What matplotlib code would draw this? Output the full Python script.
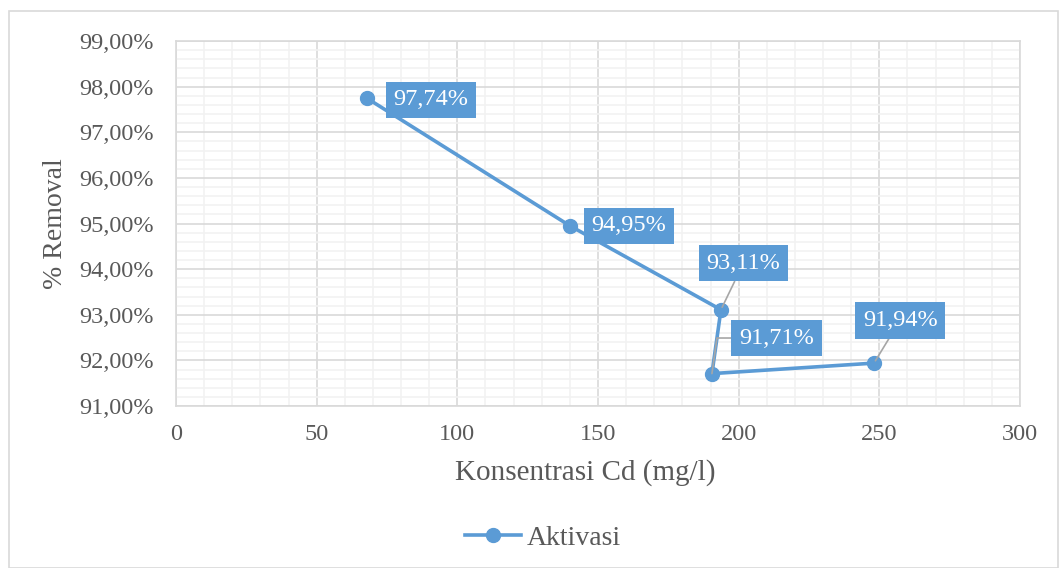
import numpy as np
import matplotlib.pyplot as plt
from matplotlib.ticker import MultipleLocator, FuncFormatter
from matplotlib.patches import Rectangle

plt.rcParams['font.family'] = ['Liberation Serif', 'DejaVu Serif']

# data
konsentrasi = [68, 140, 193.7, 190.5, 248.1]
removal = [97.74, 94.95, 93.11, 91.71, 91.94]
labels = ['97,74%', '94,95%', '93,11%', '91,71%', '91,94%']
# label offsets in data units (dx, dy) from point
label_offsets = [(22.6, -0.03), (21, 0.0), (8, 1.02), (23, 0.78), (9.3, 0.94)]

blue = '#5B9BD5'
grey_txt = '#595959'

fig = plt.figure(figsize=(10.59, 5.68), dpi=100)
fig.patches.append(Rectangle((9/1059, 0), 1 - 10/1059, 1 - 11/568, transform=fig.transFigure,
                             fill=False, edgecolor='#D9D9D9', linewidth=1.2))
ax = fig.add_axes([176/1059, 1 - 406/568, 844/1059, 365/568])

ax.plot(konsentrasi, removal, color=blue, linewidth=2.6, marker='o', markersize=10,
        label='Aktivasi', zorder=3)

box = dict(boxstyle='square,pad=0.32', facecolor=blue, edgecolor='none')
for i, (x, y, lab, (dx, dy)) in enumerate(zip(konsentrasi, removal, labels, label_offsets)):
    tx, ty = x + dx, y + dy
    if dy > 0.3:
        if i == 3:
            arrow = dict(arrowstyle='-', color='#A6A6A6', lw=1.2, shrinkA=0, shrinkB=0,
                         relpos=(0, 0.5), connectionstyle='angle,angleA=0,angleB=82,rad=0')
        else:
            arrow = dict(arrowstyle='-', color='#A6A6A6', lw=1.2, shrinkA=0, shrinkB=2)
        ax.annotate(lab, xy=(x, y), xytext=(tx, ty), fontsize=17.5, color='white',
                    ha='center', va='center', bbox=box, arrowprops=arrow, zorder=4)
    else:
        ax.text(tx, ty, lab, fontsize=17.5, color='white', ha='center', va='center',
                bbox=box, zorder=4)

ax.set_xlim(0, 300)
ax.set_ylim(91, 99)
ax.xaxis.set_major_locator(MultipleLocator(50))
ax.xaxis.set_minor_locator(MultipleLocator(10))
ax.yaxis.set_major_locator(MultipleLocator(1))
ax.yaxis.set_minor_locator(MultipleLocator(0.2))
ax.yaxis.set_major_formatter(FuncFormatter(lambda v, p: f'{v:.2f}%'.replace('.', ',')))

ax.grid(True, which='major', color='#D9D9D9', linewidth=1.2)
ax.grid(True, which='minor', color='#F2F2F2', linewidth=1.2)
ax.set_axisbelow(True)
for s in ax.spines.values():
    s.set_color('#D9D9D9')
    s.set_linewidth(1.2)
ax.tick_params(which='both', length=0, labelsize=17.5, colors=grey_txt)
ax.tick_params(axis='x', pad=13)
ax.tick_params(axis='y', pad=16)

ax.set_xlabel('Konsentrasi Cd (mg/l)', fontsize=21, color=grey_txt, labelpad=10)
ax.xaxis.label.set_x(0.485)
ax.set_ylabel('% Removal', fontsize=20, color=grey_txt, labelpad=8)

fig.legend(loc='center', bbox_to_anchor=(543/1059, 1 - 538/568), frameon=False,
           fontsize=20, labelcolor=grey_txt, handlelength=2.0, handletextpad=0.2)

fig.savefig('out.png', dpi=100)
